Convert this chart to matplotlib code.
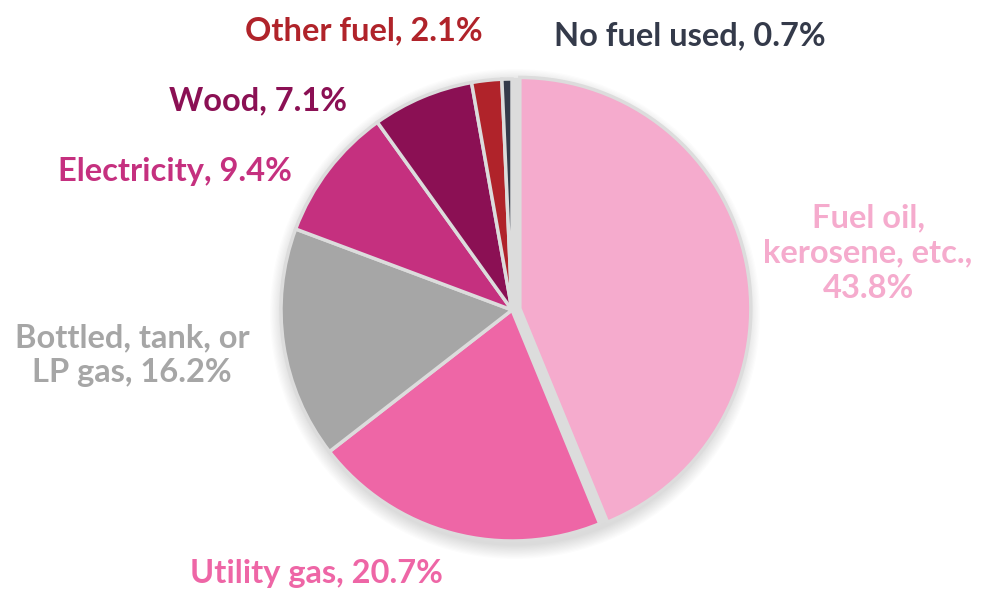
import numpy as np
import matplotlib.pyplot as plt
from matplotlib.patches import Circle

# --- Data ---
labels = ["Fuel oil,\nkerosene, etc.,\n43.8%", "Utility gas, 20.7%",
          "Bottled, tank, or\nLP gas, 16.2%", "Electricity, 9.4%",
          "Wood, 7.1%", "Other fuel, 2.1%", "No fuel used, 0.7%"]
shares = [43.8, 20.7, 16.2, 9.4, 7.1, 2.1, 0.7]
colors = ["#f5abcd", "#ee66a6", "#a6a6a6", "#c5307f", "#8b1054", "#b0232a", "#343a4a"]
label_colors = ["#f5abcd", "#ee66a6", "#a6a6a6", "#c5307f", "#8b1054", "#b0232a", "#343a4a"]

# label anchor points (pixel coords, y from top)
label_pos = [(868, 253), (316, 573), (132, 355), (175, 172), (258, 101), (364, 31), (690, 36)]

W, H = 997, 603
CX, CY, R = 512, H - 310, 231
EXPLODE_PX = 8  # offset of the first wedge

fig = plt.figure(figsize=(W / 100, H / 100), dpi=100)
ax = fig.add_axes([0, 0, 1, 1])

# soft shadow + grey base disc
for i in range(12):
    ax.add_patch(Circle((CX + 3, CY - 4), R + 14 - i * 1.2, color="black",
                        alpha=0.012, lw=0, zorder=0))
ax.add_patch(Circle((CX, CY), R + 1, color="#dcdcdc", lw=0, zorder=1))

wedges, _ = ax.pie(shares, colors=colors, startangle=90, counterclock=False,
                   center=(CX, CY), radius=R,
                   wedgeprops=dict(edgecolor="#dcdcdc", linewidth=2.5))
for w in wedges:
    w.set_zorder(2)

# pull the first wedge out along its middle angle
w0 = wedges[0]
mid = np.radians((w0.theta1 + w0.theta2) / 2)
w0.set_center((CX + EXPLODE_PX * np.cos(mid), CY + EXPLODE_PX * np.sin(mid)))

for lab, (x, y), c in zip(labels, label_pos, label_colors):
    ax.text(x, H - y, lab, color=c, fontsize=23.5, fontweight="bold",
            family=["Lato", "DejaVu Sans"], ha="center", va="center",
            linespacing=1.25, zorder=3)

ax.set_xlim(0, W)
ax.set_ylim(0, H)
ax.set_aspect("equal")
ax.axis("off")
fig.savefig("out.png", dpi=100)
